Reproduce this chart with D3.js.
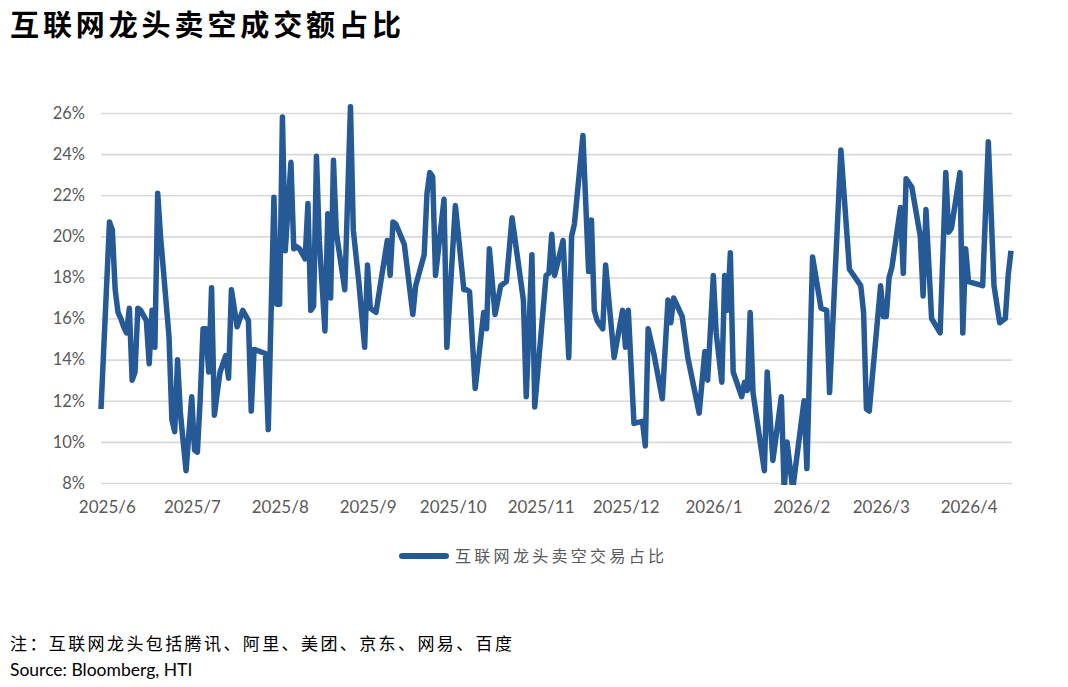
<!DOCTYPE html>
<html>
<head>
<meta charset="utf-8">
<script src="https://cdn.jsdelivr.net/npm/d3@7/dist/d3.min.js"></script>
<style>
  html, body { margin: 0; padding: 0; background: #ffffff; }
  svg { display: block; }
</style>
</head>
<body>
<svg id="chart" width="1068" height="687"></svg>
<script>
// ---------------- DATA ----------------
const titleText = "互联网龙头卖空成交额占比";
const seriesName = "互联网龙头卖空交易占比";
const noteText = "注：互联网龙头包括腾讯、阿里、美团、京东、网易、百度";
const sourceText = "Source: Bloomberg, HTI";

const yTicks = [8, 10, 12, 14, 16, 18, 20, 22, 24, 26];
const xTickLabels = ["2025/6","2025/7","2025/8","2025/9","2025/10","2025/11","2025/12","2026/1","2026/2","2026/3","2026/4"];

const dates = [
  "2025-05-31","2025-06-03","2025-06-04","2025-06-05","2025-06-06","2025-06-07","2025-06-08","2025-06-09","2025-06-10","2025-06-11",
  "2025-06-12","2025-06-13","2025-06-14","2025-06-16","2025-06-17","2025-06-18","2025-06-19","2025-06-20","2025-06-21","2025-06-24",
  "2025-06-25","2025-06-26","2025-06-27","2025-06-28","2025-06-30","2025-07-02","2025-07-03","2025-07-04","2025-07-05","2025-07-06",
  "2025-07-07","2025-07-08","2025-07-09","2025-07-10","2025-07-11","2025-07-12","2025-07-14","2025-07-15","2025-07-16","2025-07-18",
  "2025-07-20","2025-07-22","2025-07-23","2025-07-24","2025-07-28","2025-07-29","2025-07-31","2025-08-01","2025-08-02","2025-08-03",
  "2025-08-04","2025-08-06","2025-08-07","2025-08-08","2025-08-09","2025-08-11","2025-08-12","2025-08-13","2025-08-14","2025-08-15",
  "2025-08-16","2025-08-18","2025-08-19","2025-08-20","2025-08-21","2025-08-22","2025-08-25","2025-08-27","2025-08-28","2025-08-30",
  "2025-09-01","2025-09-02","2025-09-03","2025-09-05","2025-09-09","2025-09-10","2025-09-11","2025-09-12","2025-09-15","2025-09-18",
  "2025-09-19","2025-09-22","2025-09-23","2025-09-24","2025-09-25","2025-09-26","2025-09-29","2025-09-30","2025-10-03","2025-10-06",
  "2025-10-07","2025-10-08","2025-10-10","2025-10-13","2025-10-14","2025-10-15","2025-10-17","2025-10-19","2025-10-21","2025-10-23",
  "2025-10-27","2025-10-28","2025-10-30","2025-10-31","2025-11-04","2025-11-05","2025-11-06","2025-11-07","2025-11-10","2025-11-12",
  "2025-11-13","2025-11-14","2025-11-17","2025-11-19","2025-11-20","2025-11-21","2025-11-22","2025-11-24","2025-11-25","2025-11-28",
  "2025-12-01","2025-12-02","2025-12-03","2025-12-05","2025-12-08","2025-12-09","2025-12-10","2025-12-12","2025-12-15","2025-12-17",
  "2025-12-18","2025-12-19","2025-12-22","2025-12-24","2025-12-28","2025-12-30","2025-12-31","2026-01-02","2026-01-03","2026-01-05",
  "2026-01-06","2026-01-07","2026-01-08","2026-01-09","2026-01-12","2026-01-13","2026-01-14","2026-01-15","2026-01-16","2026-01-20",
  "2026-01-21","2026-01-23","2026-01-26","2026-01-27","2026-01-28","2026-01-30","2026-02-03","2026-02-04","2026-02-06","2026-02-09",
  "2026-02-11","2026-02-12","2026-02-16","2026-02-19","2026-02-23","2026-02-24","2026-02-25","2026-02-26","2026-03-02","2026-03-03",
  "2026-03-04","2026-03-05","2026-03-06","2026-03-09","2026-03-10","2026-03-11","2026-03-13","2026-03-16","2026-03-17","2026-03-18",
  "2026-03-20","2026-03-23","2026-03-25","2026-03-26","2026-03-27","2026-03-30","2026-03-31","2026-04-01","2026-04-02","2026-04-07",
  "2026-04-09","2026-04-11","2026-04-13","2026-04-15","2026-04-16","2026-04-17"
];

const shortShare = [
  11.6, 20.7, 20.3, 17.4, 16.3, 16.0, 15.6, 15.3, 16.5, 13.0,
  13.4, 16.5, 16.4, 15.9, 13.8, 16.4, 14.6, 22.1, 20.0, 15.1,
  11.1, 10.5, 14.0, 11.4, 8.6, 12.2, 9.6, 9.5, 12.1, 15.5,
  15.5, 13.4, 17.5, 11.3, 12.4, 13.4, 14.2, 13.1, 17.4, 15.6,
  16.4, 15.9, 11.5, 14.5, 14.3, 10.6, 21.9, 16.7, 16.7, 25.8,
  19.3, 23.6, 19.4, 19.5, 19.4, 18.9, 21.6, 16.4, 16.6, 23.9,
  19.8, 15.4, 21.1, 17.0, 23.7, 20.2, 17.4, 26.3, 20.3, 17.7,
  14.6, 18.6, 16.5, 16.3, 19.8, 18.1, 20.7, 20.6, 19.6, 16.2,
  17.6, 19.1, 22.1, 23.1, 22.9, 18.1, 21.8, 14.6, 21.5, 17.4,
  17.4, 17.3, 12.6, 16.3, 15.5, 19.4, 16.2, 17.6, 17.8, 20.9,
  16.9, 12.2, 19.1, 11.7, 18.1, 18.2, 20.1, 18.1, 19.8, 14.1,
  20.0, 20.6, 24.9, 18.3, 20.8, 16.4, 15.9, 15.5, 18.6, 14.1,
  16.4, 14.6, 16.4, 10.9, 11.0, 9.8, 15.5, 14.3, 12.1, 16.9,
  15.8, 17.0, 16.1, 14.1, 11.4, 14.4, 13.0, 18.1, 15.3, 12.9,
  18.1, 16.4, 19.2, 13.4, 12.2, 12.9, 12.5, 16.3, 12.4, 8.6,
  13.4, 9.1, 12.2, 7.6, 10.0, 7.7, 12.0, 8.7, 19.0, 16.5,
  16.4, 12.4, 24.2, 18.4, 17.6, 16.3, 11.6, 11.5, 17.6, 16.1,
  16.1, 18.0, 18.5, 21.4, 18.2, 22.8, 22.4, 20.0, 17.1, 21.3,
  16.0, 15.3, 23.1, 20.2, 20.4, 23.1, 15.3, 19.4, 17.8, 17.6,
  24.6, 17.6, 15.8, 16.0, 18.1, 19.3
];

// ---------------- CHART ----------------
const parseDate = d3.timeParse("%Y-%m-%d");
const parseMonth = d3.timeParse("%Y/%m");
const points = dates.map((d, i) => ({ date: parseDate(d), v: shortShare[i] }));

const svg = d3.select("#chart");
const plot = { left: 101, right: 1011, top: 113, bottom: 483 };

const x = d3.scaleTime()
  .domain([points[0].date, points[points.length - 1].date])
  .range([plot.left, plot.right]);
const y = d3.scaleLinear().domain([8, 26]).range([plot.bottom, plot.top]);

const axisColor = "#595959";
const gridColor = "#d9d9d9";
const lineColor = "#255a97";
const latin = "Lato, 'Open Sans', 'Liberation Sans', sans-serif";
const cjk = "'Noto Sans CJK SC', 'Noto Sans', sans-serif";

// Title
svg.append("text")
  .attr("x", 10).attr("y", 36)
  .attr("font-family", cjk)
  .attr("font-weight", 700)
  .attr("font-size", 29)
  .attr("letter-spacing", 3.9)
  .attr("fill", "#000")
  .text(titleText);

// Gridlines via axis
const yGrid = d3.axisLeft(y).tickValues(yTicks).tickSize(-(plot.right - plot.left + 1)).tickFormat("");
svg.append("g")
  .attr("transform", `translate(${plot.left},0)`)
  .call(yGrid)
  .call(g => g.select(".domain").remove())
  .call(g => g.selectAll("line").attr("stroke", gridColor).attr("stroke-width", 1.6));

// Y labels
const yAxis = d3.axisLeft(y).tickValues(yTicks).tickSize(0).tickPadding(0).tickFormat(d => d + "%");
svg.append("g")
  .attr("transform", `translate(85,0)`)
  .call(yAxis)
  .call(g => g.select(".domain").remove())
  .call(g => g.selectAll("text")
    .attr("font-family", latin).attr("font-size", 16.5).attr("fill", axisColor));

// X labels
const xTickDates = xTickLabels.map(s => parseMonth(s));
const xAxis = d3.axisBottom(x).tickValues(xTickDates).tickSize(0).tickPadding(0)
  .tickFormat((d, i) => xTickLabels[i]);
svg.append("g")
  .attr("transform", `translate(3,${plot.bottom + 18})`)
  .call(xAxis)
  .call(g => g.select(".domain").remove())
  .call(g => g.selectAll("text")
    .attr("font-family", latin).attr("font-size", 17).attr("fill", axisColor));

// Clip
svg.append("clipPath").attr("id", "plotClip")
  .append("rect")
  .attr("x", plot.left - 3).attr("y", plot.top - 20)
  .attr("width", plot.right - plot.left + 6)
  .attr("height", plot.bottom - plot.top + 22);

// Line
const line = d3.line().x(d => x(d.date)).y(d => y(d.v));
svg.append("path")
  .datum(points)
  .attr("clip-path", "url(#plotClip)")
  .attr("d", line)
  .attr("fill", "none")
  .attr("stroke", lineColor)
  .attr("stroke-width", 5.5)
  .attr("stroke-linejoin", "round");

// Legend
const legend = svg.append("g");
legend.append("line")
  .attr("x1", 402).attr("x2", 446).attr("y1", 556).attr("y2", 556)
  .attr("stroke", lineColor).attr("stroke-width", 6).attr("stroke-linecap", "round");
legend.append("text")
  .attr("x", 455).attr("y", 562)
  .attr("font-family", cjk).attr("font-size", 16).attr("letter-spacing", 3.3)
  .attr("fill", axisColor)
  .text(seriesName);

// Footnotes
svg.append("text")
  .attr("x", 10).attr("y", 650)
  .attr("font-family", cjk).attr("font-size", 17).attr("letter-spacing", 2.4)
  .attr("fill", "#000")
  .text(noteText);
svg.append("text")
  .attr("x", 10).attr("y", 676)
  .attr("font-family", latin).attr("font-size", 17.5)
  .attr("fill", "#000")
  .text(sourceText);
</script>
</body>
</html>
